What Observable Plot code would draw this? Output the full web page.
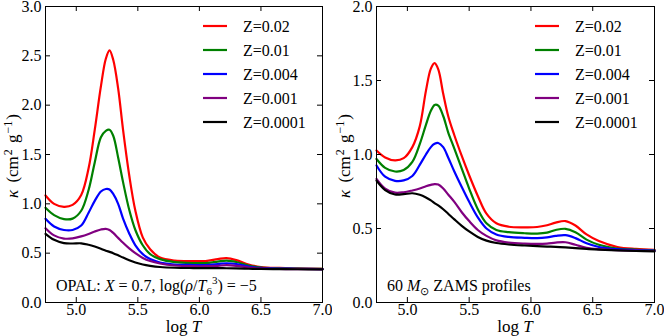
<!DOCTYPE html>
<html><head><meta charset="utf-8">
<script src="https://cdn.jsdelivr.net/npm/d3@7"></script>
<script src="https://cdn.jsdelivr.net/npm/@observablehq/plot@0.6"></script>
<style>
html,body{margin:0;padding:0;background:#fff;}
#wrap{display:flex;width:664px;height:336px;overflow:hidden;}
svg, svg text, svg tspan {font-family:"Liberation Serif",serif !important;}
</style></head><body><div id="wrap"></div>
<script>
// ---------- series / ticks ----------
const seriesNames = ["Z=0.02", "Z=0.01", "Z=0.004", "Z=0.001", "Z=0.0001"];
const seriesColors = ["#ff0000", "#008000", "#0000ff", "#800080", "#000000"];
const xTicks = [5.0, 5.5, 6.0, 6.5, 7.0];
const yTicksLeft = [0, 0.5, 1.0, 1.5, 2.0, 2.5, 3.0];
const yTicksRight = [0, 0.5, 1.0, 1.5, 2.0];

// ---------- left panel: OPAL tables ----------
const logT_opal = [4.75, 4.82, 4.9, 4.97, 5.04, 5.1, 5.15, 5.2, 5.24, 5.27, 5.3, 5.34, 5.38, 5.43, 5.48, 5.54, 5.6, 5.68, 5.8, 5.95, 6.05, 6.15, 6.22, 6.3, 6.4, 6.5, 6.65, 6.8, 7.0];
const opal_Z002   = [1.085, 1.00, 0.97, 0.99, 1.09, 1.36, 1.75, 2.19, 2.47, 2.555, 2.46, 2.17, 1.75, 1.29, 0.93, 0.66, 0.54, 0.455, 0.425, 0.42, 0.42, 0.44, 0.45, 0.43, 0.385, 0.36, 0.35, 0.345, 0.34];
const opal_Z001   = [0.96, 0.885, 0.845, 0.85, 0.93, 1.14, 1.42, 1.675, 1.74, 1.75, 1.69, 1.47, 1.22, 0.94, 0.735, 0.58, 0.49, 0.44, 0.41, 0.40, 0.40, 0.415, 0.425, 0.41, 0.375, 0.355, 0.347, 0.343, 0.34];
const opal_Z0004  = [0.848, 0.77, 0.735, 0.735, 0.78, 0.91, 1.03, 1.125, 1.15, 1.145, 1.10, 1.0, 0.85, 0.70, 0.58, 0.49, 0.44, 0.405, 0.385, 0.38, 0.38, 0.39, 0.398, 0.39, 0.365, 0.35, 0.344, 0.342, 0.338];
const opal_Z0001  = [0.753, 0.68, 0.648, 0.65, 0.67, 0.695, 0.72, 0.74, 0.747, 0.735, 0.705, 0.655, 0.605, 0.548, 0.50, 0.452, 0.42, 0.395, 0.375, 0.368, 0.368, 0.372, 0.378, 0.372, 0.355, 0.345, 0.34, 0.338, 0.336];
const opal_Z00001 = [0.696, 0.635, 0.602, 0.598, 0.60, 0.585, 0.567, 0.545, 0.525, 0.513, 0.50, 0.478, 0.455, 0.428, 0.405, 0.385, 0.372, 0.36, 0.352, 0.349, 0.348, 0.348, 0.347, 0.345, 0.342, 0.34, 0.338, 0.337, 0.335];

// ---------- right panel: 60 Msun ZAMS profiles ----------
const logT_zams = [4.75, 4.82, 4.9, 4.97, 5.04, 5.1, 5.15, 5.19, 5.22, 5.25, 5.29, 5.33, 5.38, 5.44, 5.5, 5.57, 5.64, 5.72, 5.82, 5.95, 6.05, 6.13, 6.2, 6.28, 6.36, 6.45, 6.55, 6.7, 6.85, 7.0];
const zams_Z002   = [1.027, 0.98, 0.96, 0.975, 1.05, 1.19, 1.43, 1.58, 1.617, 1.575, 1.41, 1.26, 1.13, 0.99, 0.86, 0.72, 0.60, 0.535, 0.512, 0.508, 0.51, 0.522, 0.54, 0.55, 0.52, 0.46, 0.415, 0.375, 0.362, 0.356];
const zams_Z001   = [0.97, 0.91, 0.885, 0.895, 0.95, 1.07, 1.2, 1.295, 1.335, 1.33, 1.26, 1.15, 1.04, 0.905, 0.77, 0.63, 0.535, 0.49, 0.475, 0.468, 0.466, 0.472, 0.49, 0.498, 0.475, 0.425, 0.39, 0.365, 0.357, 0.352];
const zams_Z0004  = [0.926, 0.85, 0.822, 0.825, 0.855, 0.93, 1.0, 1.05, 1.072, 1.078, 1.05, 0.98, 0.885, 0.78, 0.68, 0.575, 0.5, 0.46, 0.443, 0.437, 0.435, 0.44, 0.45, 0.455, 0.435, 0.4, 0.375, 0.36, 0.354, 0.35];
const zams_Z0001  = [0.836, 0.77, 0.742, 0.745, 0.757, 0.77, 0.785, 0.795, 0.80, 0.797, 0.77, 0.73, 0.68, 0.61, 0.55, 0.49, 0.45, 0.42, 0.405, 0.398, 0.396, 0.398, 0.405, 0.407, 0.39, 0.37, 0.36, 0.353, 0.35, 0.348];
const zams_Z00001 = [0.824, 0.76, 0.73, 0.732, 0.738, 0.728, 0.71, 0.69, 0.672, 0.656, 0.63, 0.6, 0.562, 0.518, 0.48, 0.443, 0.418, 0.402, 0.392, 0.385, 0.381, 0.378, 0.376, 0.372, 0.367, 0.362, 0.357, 0.352, 0.348, 0.345];

function toRows(xs, seriesArrays) {
  const rows = [];
  seriesArrays.forEach((arr, i) => arr.forEach((v, j) => rows.push({logT: xs[j], kappa: v, series: seriesNames[i]})));
  return rows;
}

const W = 332, H = 336, MT = 6, MB = 34;
const FONT = "'Liberation Serif', serif";

function panel({rows, yMax, yTicks, mL, mR}) {
  const innerW = W - mL - mR, innerH = H - MT - MB, tick = 5;
  return Plot.plot({
    width: W, height: H,
    marginLeft: mL, marginRight: mR, marginTop: MT, marginBottom: MB,
    style: {fontSize: "16px", fontFamily: FONT, background: "white", color: "black", overflow: "visible"},
    x: {domain: [4.75, 7.0]},
    y: {domain: [0, yMax]},
    color: {domain: seriesNames, range: seriesColors},
    marks: [
      Plot.line(rows, {x: "logT", y: "kappa", z: "series", stroke: "series", strokeWidth: 2.2, curve: "catmull-rom"}),
      Plot.axisX({ticks: xTicks, tickSize: 0, tickPadding: 1, tickFormat: d3.format(".1f"), label: null}),
      Plot.axisY({ticks: yTicks, tickSize: 0, tickPadding: 4, tickFormat: d3.format(".1f"), label: null}),
      Plot.tickX(xTicks, {x: d => d, stroke: "black", insetTop: innerH - tick}),
      Plot.tickX(xTicks, {x: d => d, stroke: "black", insetBottom: innerH - tick}),
      Plot.tickY(yTicks, {y: d => d, stroke: "black", insetRight: innerW - tick}),
      Plot.tickY(yTicks, {y: d => d, stroke: "black", insetLeft: innerW - tick}),
      Plot.frame({stroke: "black", strokeWidth: 1})
    ]
  });
}

function decorate(svgEl, {mL, mR, annotation}) {
  const svg = d3.select(svgEl);
  const g = svg.append("g")
    .attr("style", `font-family:${FONT};text-anchor:start;`)
    .attr("fill", "black");
  // legend
  seriesNames.forEach((name, i) => {
    const y = 26 + 24 * i;
    g.append("line").attr("x1", 203).attr("x2", 227).attr("y1", y).attr("y2", y)
      .attr("stroke", seriesColors[i]).attr("stroke-width", 2.2);
    g.append("text").attr("x", 243).attr("y", y + 5.5).attr("font-size", 16)
      .attr("text-anchor", "start").text(name);
  });
  // x label
  const cx = mL + (W - mL - mR) / 2;
  const xl = g.append("text").attr("x", cx).attr("y", 332).attr("text-anchor", "middle").attr("font-size", 17);
  xl.append("tspan").text("log ");
  xl.append("tspan").attr("font-style", "italic").text("T");
  // y label
  const yl = g.append("text").attr("transform", `translate(18,${MT + (H - MT - MB) / 2 + 2}) rotate(-90)`)
    .attr("text-anchor", "middle").attr("font-size", 17);
  yl.append("tspan").attr("font-style", "italic").text("κ");
  yl.append("tspan").attr("dx", 3).text(" (cm");
  yl.append("tspan").attr("font-size", 12).attr("dy", -6).attr("dx", 1).text("2");
  yl.append("tspan").attr("dy", 6).attr("dx", 2).text(" g");
  yl.append("tspan").attr("font-size", 12).attr("dy", -6).attr("dx", 1).text("−1");
  yl.append("tspan").attr("dy", 6).attr("dx", 1).text(")");
  // annotation
  const an = g.append("text").attr("x", mL + 11).attr("y", 291).attr("font-size", 16).attr("text-anchor", "start");
  annotation(an);
}

const wrap = document.getElementById("wrap");

const left = panel({rows: toRows(logT_opal, [opal_Z002, opal_Z001, opal_Z0004, opal_Z0001, opal_Z00001]), yMax: 3, yTicks: yTicksLeft, mL: 45, mR: 10});
decorate(left, {mL: 45, mR: 10, annotation: t => {
  t.append("tspan").text("OPAL: ");
  t.append("tspan").attr("font-style", "italic").text("X");
  t.append("tspan").text(" = 0.7, log(");
  t.append("tspan").attr("font-style", "italic").text("ρ");
  t.append("tspan").text("/");
  t.append("tspan").attr("font-style", "italic").text("T");
  t.append("tspan").attr("font-size", 11).attr("dy", 4).text("6");
  t.append("tspan").attr("font-size", 11).attr("dy", -11).text("3");
  t.append("tspan").attr("dy", 7).text(") = −5");
}});
wrap.appendChild(left);

const right = panel({rows: toRows(logT_zams, [zams_Z002, zams_Z001, zams_Z0004, zams_Z0001, zams_Z00001]), yMax: 2, yTicks: yTicksRight, mL: 44, mR: 10});
decorate(right, {mL: 44, mR: 10, annotation: t => {
  t.append("tspan").text("60 ");
  t.append("tspan").attr("font-style", "italic").text("M");
  t.append("tspan").attr("font-size", 11).attr("dy", 4).text("⊙");
  t.append("tspan").attr("dy", -4).text(" ZAMS profiles");
}});
wrap.appendChild(right);
</script>
</body></html>
